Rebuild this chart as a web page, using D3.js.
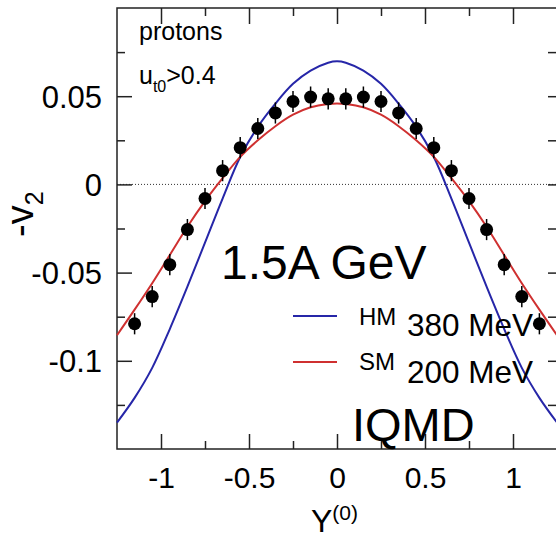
<!DOCTYPE html>
<html>
<head>
<meta charset="utf-8">
<script src="https://d3js.org/d3.v7.min.js"></script>
<style>
  body { margin: 0; background: #fff; }
  text { font-family: "Liberation Sans", Arial, Helvetica, sans-serif; fill: #000; }
</style>
</head>
<body>
<div id="chart"></div>
<script>
// measured -v2 of protons vs rapidity
const rapidity = [-1.15,-1.05,-0.95,-0.85,-0.75,-0.65,-0.55,-0.45,-0.35,-0.25,-0.15,-0.05,
                  0.05,0.15,0.25,0.35,0.45,0.55,0.65,0.75,0.85,0.95,1.05,1.15];
const minusV2 = [-0.079,-0.0636,-0.0455,-0.0256,-0.008,0.0078,0.0208,0.0317,0.0405,0.047,0.0495,0.0485,
                 0.0485,0.0495,0.047,0.0405,0.0317,0.0208,0.0078,-0.008,-0.0256,-0.0455,-0.0636,-0.079];
const v2Err = [0.006,0.006,0.006,0.006,0.006,0.006,0.006,0.006,0.006,0.006,0.006,0.006,
               0.006,0.006,0.006,0.006,0.006,0.006,0.006,0.006,0.006,0.006,0.006,0.006];

// IQMD curves
const curveX = [-1.25,-1.15,-1.05,-0.95,-0.85,-0.75,-0.65,-0.55,-0.45,-0.35,-0.25,-0.15,-0.05,0,
                0.05,0.15,0.25,0.35,0.45,0.55,0.65,0.75,0.85,0.95,1.05,1.15,1.25];
const hmY = [-0.135,-0.121,-0.104,-0.082,-0.058,-0.033,-0.008,0.0155,0.0326,0.0458,0.057,0.0645,0.069,0.0698,
             0.069,0.0645,0.057,0.0458,0.0326,0.0155,-0.008,-0.033,-0.058,-0.082,-0.104,-0.121,-0.135];
const smY = [-0.0855,-0.071,-0.056,-0.040,-0.024,-0.0095,0.0035,0.0156,0.025,0.033,0.0395,0.0437,0.0456,0.0459,
             0.0456,0.0437,0.0395,0.033,0.025,0.0156,0.0035,-0.0095,-0.024,-0.040,-0.056,-0.071,-0.0855];

const xMajor = [-1,-0.5,0,0.5,1], xMinor = [-0.75,-0.25,0.25,0.75];
const yMajor = [-0.1,-0.05,0,0.05], yMinor = [-0.125,-0.075,-0.025,0.025,0.075];

const W = 556, H = 538;
const margin = {top: 8, left: 117};
const width = 440, height = 441;

const svg = d3.select("#chart").append("svg")
    .attr("width", W).attr("height", H);
const g = svg.append("g").attr("transform", `translate(${margin.left},${margin.top})`);

const x = d3.scaleLinear([-1.25, 1.25], [0, width]);
const y = d3.scaleLinear([-0.15, 0.1], [height, 0]);

// plain hyphen minus like the original
const fmt = d => String(d);

// zero line
g.append("line")
  .attr("x1", 0).attr("x2", width)
  .attr("y1", y(0)).attr("y2", y(0))
  .attr("stroke", "#333").attr("stroke-width", 1).attr("stroke-dasharray", "1,2");

function styleAxis(sel) {
  sel.select(".domain").remove();
  sel.attr("font-family", null);
  sel.selectAll(".tick line").attr("stroke", "#222").attr("stroke-width", 1.5);
  sel.selectAll(".tick text").attr("fill", "#000");
}

// bottom / top
g.append("g").attr("transform", `translate(0,${height})`)
  .call(d3.axisBottom(x).tickValues(xMajor).tickSize(-15).tickPadding(39).tickFormat(fmt))
  .call(styleAxis).attr("font-size", 30)
  .selectAll(".tick text").attr("dy", null);
g.append("g").attr("transform", `translate(0,${height})`)
  .call(d3.axisBottom(x).tickValues(xMinor).tickSize(-8).tickFormat(""))
  .call(styleAxis);
g.append("g")
  .call(d3.axisTop(x).tickValues(xMajor).tickSize(-16).tickFormat(""))
  .call(styleAxis);
g.append("g")
  .call(d3.axisTop(x).tickValues(xMinor).tickSize(-8).tickFormat(""))
  .call(styleAxis);

// left / right
g.append("g")
  .call(d3.axisLeft(y).tickValues(yMajor).tickSize(-15).tickPadding(15).tickFormat(fmt))
  .call(styleAxis).attr("font-size", 31)
  .selectAll(".tick text").attr("dy", "0.36em");
g.append("g")
  .call(d3.axisLeft(y).tickValues(yMinor).tickSize(-8).tickFormat(""))
  .call(styleAxis);
g.append("g").attr("transform", `translate(${width},0)`)
  .call(d3.axisRight(y).tickValues(yMajor.concat(yMinor)).tickSize(-9).tickFormat(""))
  .call(styleAxis);

// frame
g.append("rect")
  .attr("width", width).attr("height", height)
  .attr("fill", "none").attr("stroke", "#222").attr("stroke-width", 1.5);

// curves
const line = d3.line().curve(d3.curveCatmullRom.alpha(0.5));
g.append("path")
  .attr("d", line(curveX.map((d, i) => [x(d), y(hmY[i])])))
  .attr("fill", "none").attr("stroke", "#2626a8").attr("stroke-width", 2);
g.append("path")
  .attr("d", line(curveX.map((d, i) => [x(d), y(smY[i])])))
  .attr("fill", "none").attr("stroke", "#cf3030").attr("stroke-width", 2);

// points with error bars
const pts = g.append("g");
pts.selectAll("line").data(rapidity).join("line")
  .attr("x1", d => x(d)).attr("x2", d => x(d))
  .attr("y1", (d, i) => y(minusV2[i] + v2Err[i]))
  .attr("y2", (d, i) => y(minusV2[i] - v2Err[i]))
  .attr("stroke", "#000").attr("stroke-width", 1.5);
pts.selectAll("circle").data(rapidity).join("circle")
  .attr("cx", d => x(d)).attr("cy", (d, i) => y(minusV2[i]))
  .attr("r", 6.5).attr("fill", "#000");

// in-plot texts
svg.append("text").attr("x", 139).attr("y", 40).attr("font-size", 25).text("protons");
const ut = svg.append("text").attr("x", 139).attr("y", 84).attr("font-size", 25);
ut.append("tspan").text("u");
ut.append("tspan").attr("font-size", 16).attr("dy", 8).text("t0");
ut.append("tspan").attr("dy", -8).text(">0.4");

svg.append("text").attr("x", 221).attr("y", 279).attr("font-size", 48).text("1.5A GeV");

// legend
svg.append("line").attr("x1", 293).attr("x2", 337).attr("y1", 316).attr("y2", 316)
  .attr("stroke", "#2626a8").attr("stroke-width", 2);
svg.append("line").attr("x1", 293).attr("x2", 337).attr("y1", 362).attr("y2", 362)
  .attr("stroke", "#cf3030").attr("stroke-width", 2);
svg.append("text").attr("x", 359).attr("y", 325).attr("font-size", 24).text("HM");
svg.append("text").attr("x", 359).attr("y", 370).attr("font-size", 24).text("SM");
svg.append("text").attr("x", 407).attr("y", 336).attr("font-size", 31.5).text("380 MeV");
svg.append("text").attr("x", 407).attr("y", 383).attr("font-size", 31.5).text("200 MeV");
svg.append("text").attr("x", 352).attr("y", 441).attr("font-size", 47).text("IQMD");

// axis titles
const yl = svg.append("text").attr("transform", "translate(33,237) rotate(-90)").attr("font-size", 38);
yl.append("tspan").text("-v");
yl.append("tspan").attr("font-size", 25).attr("dy", 10).text("2");

const xl = svg.append("text").attr("x", 311).attr("y", 532).attr("font-size", 32);
xl.append("tspan").text("Y");
xl.append("tspan").attr("font-size", 21).attr("dy", -12).text("(0)");
</script>
</body>
</html>
